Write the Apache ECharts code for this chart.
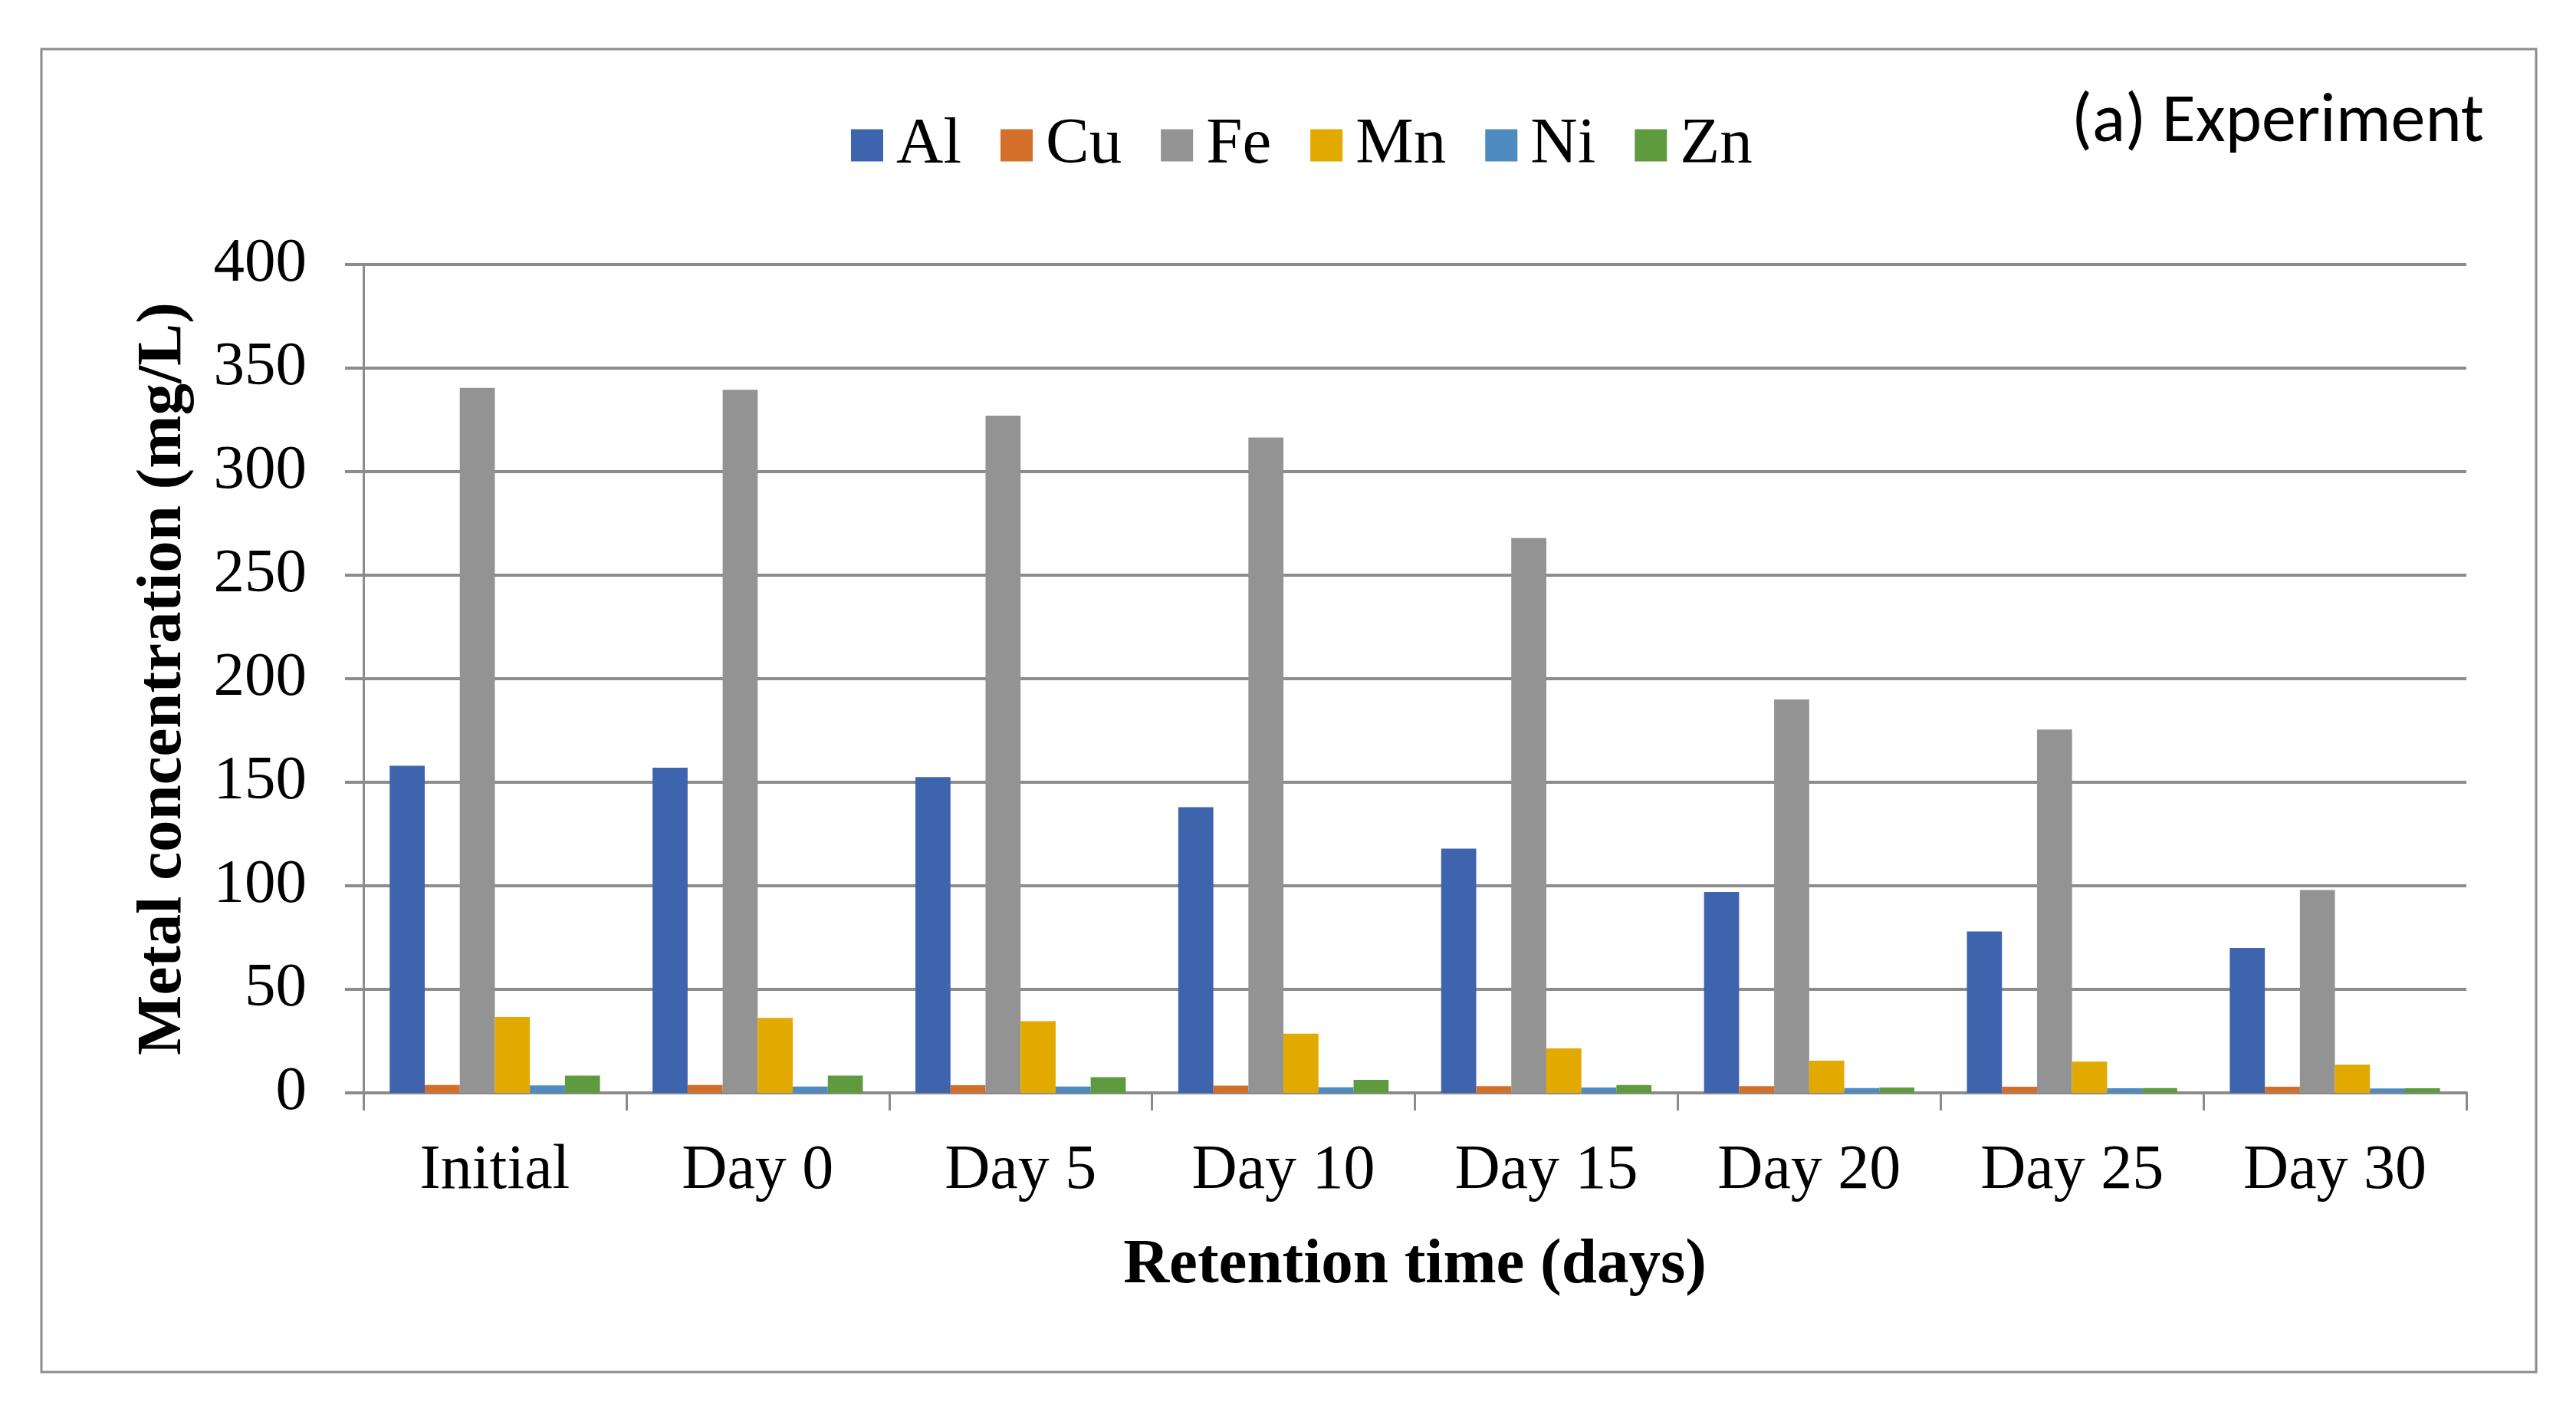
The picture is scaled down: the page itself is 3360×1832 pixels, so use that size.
<!DOCTYPE html>
<html>
<head>
<meta charset="utf-8">
<script src="https://cdn.jsdelivr.net/npm/echarts@6/dist/echarts.min.js"></script>
<style>
html,body{margin:0;padding:0;background:#fff;}
#c{width:3360px;height:1832px;}
</style>
</head>
<body>
<div id="c"></div>
<script>
const categories = ['Initial', 'Day 0', 'Day 5', 'Day 10', 'Day 15', 'Day 20', 'Day 25', 'Day 30'];
const seriesNames = ['Al', 'Cu', 'Fe', 'Mn', 'Ni', 'Zn'];
const alValues = [158, 157, 152.5, 138, 118, 97, 78, 70];
const cuValues = [3.8, 3.8, 3.7, 3.5, 3.2, 3.2, 3.0, 3.0];
const feValues = [340.5, 339.5, 327, 316.5, 268, 190, 175.5, 98];
const mnValues = [36.7, 36.2, 34.6, 28.6, 21.5, 15.6, 15.1, 13.6];
const niValues = [3.6, 3.1, 3.1, 2.7, 2.6, 2.3, 2.2, 2.1];
const znValues = [8.3, 8.3, 7.6, 6.3, 3.8, 2.6, 2.3, 2.2];
const yTicks = [0, 50, 100, 150, 200, 250, 300, 350, 400];

const seriesData = [alValues, cuValues, feValues, mnValues, niValues, znValues];
const colors = ['#3D64AD', '#D46F2A', '#939393', '#E2AA00', '#4E8BC0', '#609A3E'];
const serif = '"Liberation Serif", "Times New Roman", serif';
const gridColor = '#8c8c8c';

const chart = echarts.init(document.getElementById('c'), null, {renderer: 'canvas'});
chart.setOption({
  animation: false,
  backgroundColor: '#ffffff',
  color: colors,
  grid: {left: 474, right: 143, top: 345, bottom: 407, containLabel: false},
  legend: {
    data: seriesNames,
    left: 1105,
    top: 142,
    icon: 'rect',
    itemWidth: 42,
    itemHeight: 42,
    itemGap: 51,
    textStyle: {fontFamily: serif, fontSize: 85, color: '#000', padding: [0, 0, 0, 12]}
  },
  graphic: [
    {
      type: 'rect', z: -1, silent: true,
      shape: {x: 54, y: 64, width: 3254, height: 1725},
      style: {fill: 'none', stroke: gridColor, lineWidth: 3}
    },
    {
      type: 'text', right: 3360 - 3240, top: 116,
      style: {text: '(a) Experiment', font: '90px Carlito, Lato, sans-serif', fill: '#000'}
    }
  ],
  xAxis: {
    type: 'category',
    data: categories,
    name: 'Retention time (days)',
    nameLocation: 'middle',
    nameGap: 184,
    nameTextStyle: {fontFamily: serif, fontSize: 83, fontWeight: 'bold', color: '#000'},
    axisLine: {show: true, lineStyle: {color: gridColor, width: 4}},
    axisTick: {show: true, length: 23, lineStyle: {color: gridColor, width: 3}},
    axisLabel: {fontFamily: serif, fontSize: 82, color: '#000', margin: 61},
    splitLine: {show: false}
  },
  yAxis: {
    type: 'value',
    min: 0,
    max: 400,
    interval: 50,
    name: 'Metal concentration (mg/L)',
    nameLocation: 'middle',
    nameGap: 219,
    nameTextStyle: {fontFamily: serif, fontSize: 83, fontWeight: 'bold', color: '#000'},
    axisLine: {show: true, lineStyle: {color: gridColor, width: 3}},
    axisTick: {show: true, length: 24, lineStyle: {color: gridColor, width: 4}},
    axisLabel: {fontFamily: serif, fontSize: 81, color: '#000', margin: 74,
      formatter: function (v) { return yTicks.indexOf(v) >= 0 ? String(v) : ''; }},
    splitLine: {show: true, lineStyle: {color: gridColor, width: 4}}
  },
  series: seriesNames.map(function (name, i) {
    return {
      name: name,
      type: 'bar',
      data: seriesData[i],
      barGap: '0%',
      barCategoryGap: '20%',
      itemStyle: {color: colors[i]}
    };
  })
});
</script>
</body>
</html>
